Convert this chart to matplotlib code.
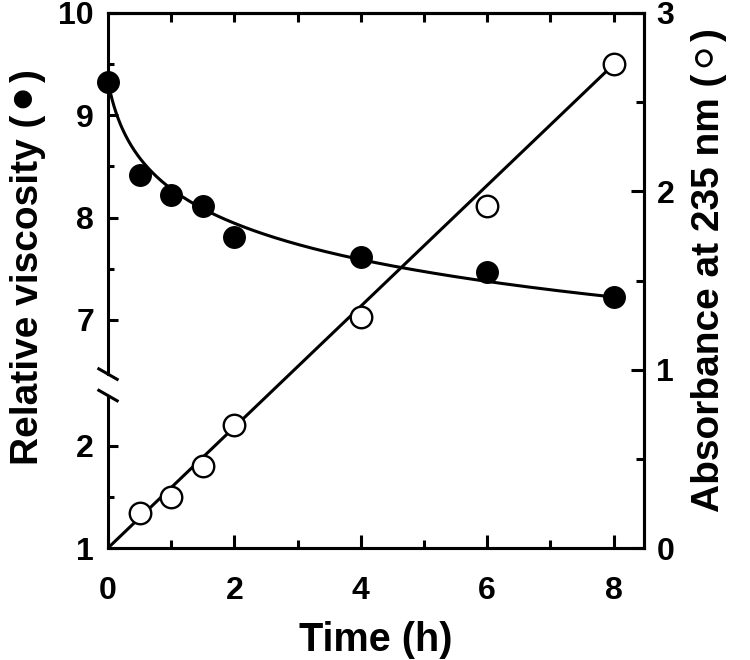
import matplotlib
matplotlib.use('Agg')
import matplotlib.pyplot as plt
from matplotlib import font_manager
import numpy as np

# ---- data ----
time_visc = [0, 0.5, 1, 1.5, 2, 4, 6, 8]
viscosity = [9.33, 8.42, 8.22, 8.11, 7.81, 7.61, 7.47, 7.22]
time_abs = [0.5, 1, 1.5, 2, 4, 6, 8]
absorbance = [0.196, 0.286, 0.46, 0.69, 1.296, 1.918, 2.714]
# fitted curves as drawn (parameters)
visc_fit_a, visc_fit_b, visc_fit_d = 9.33, 0.544, 0.17   # a - b*ln(1 + t/d)
abs_fit_slope, abs_fit_intercept = 0.339, 0.0
x_major = [0, 2, 4, 6, 8]
x_minor = [1, 3, 5, 7]
top_ticks = [1, 2, 3, 4, 5, 6, 7, 8]
left_major = [1, 2, 7, 8, 9, 10]
left_minor = [1.5, 7.5, 8.5, 9.5]
right_major = [0, 1, 2, 3]
right_minor = [0.5, 1.5, 2.5]

plt.rcParams['font.family'] = ['Liberation Sans', 'DejaVu Sans']
plt.rcParams['font.weight'] = 'bold'


def has_glyph(family, ch):
    try:
        path = font_manager.findfont(font_manager.FontProperties(family=family, weight='bold'),
                                     fallback_to_default=False)
        f = font_manager.get_font(path)
        return f.get_char_index(ord(ch)) != 0
    except Exception:
        return False


def pick(cands):
    for c in cands:
        if not has_glyph('Liberation Sans', c) and has_glyph('DejaVu Sans', c):
            return c
    return cands[-1]


FILLED = pick(['\u26ab', '\u25cf'])
OPEN = pick(['\u26aa', '\u25cb'])

OFF = 3.77          # axis-break offset for upper segment
T_TOP = 10 - OFF
BREAK_LO, BREAK_HI = 2.49, 2.70


def to_t(v):
    v = np.asarray(v, dtype=float)
    return np.where(v < 4.5, v, v - OFF)


LW = 2.2
fig = plt.figure(figsize=(7.5, 6.6), dpi=100)
ax = fig.add_axes([108 / 750, 1 - 548 / 660, (644 - 108) / 750, (548 - 13) / 660])
ax2 = ax.twinx()

# viscosity
xs = np.linspace(0, 8, 500)
ax.plot(xs, to_t(visc_fit_a - visc_fit_b * np.log(1 + xs / visc_fit_d)), color='k', lw=LW, zorder=2)
ax.plot(time_visc, to_t(viscosity), 'o', color='k', ms=15.5, zorder=3, clip_on=False)

# absorbance
xl = np.array([0, 8])
ax2.plot(xl, abs_fit_slope * xl + abs_fit_intercept, color='k', lw=LW, zorder=2)
ax2.plot(time_abs, absorbance, 'o', mfc='white', mec='k', mew=1.7, ms=15.5, zorder=3, clip_on=False)

ax.set_xlim(0, 8.48)
ax.set_ylim(1, T_TOP)
ax2.set_ylim(0, 3)

ax.set_xticks(x_major)
ax.set_xticks(x_minor, minor=True)
ax.set_yticks(to_t(left_major))
ax.set_yticklabels([str(v) for v in left_major])
ax.set_yticks(to_t(left_minor), minor=True)
ax2.set_yticks(right_major)
ax2.set_yticklabels([str(v) for v in right_major])
ax2.set_yticks(right_minor, minor=True)

TS = 23
ax.tick_params(axis='x', which='major', direction='in', length=9.5, width=LW, labelsize=TS, pad=20)
ax.tick_params(axis='x', which='minor', direction='in', length=6, width=LW)
ax.tick_params(axis='y', which='major', direction='in', length=7.5, width=LW, labelsize=TS, pad=10)
ax.tick_params(axis='y', which='minor', direction='in', length=4.5, width=LW)
ax2.tick_params(axis='y', which='major', direction='in', length=9.5, width=LW, labelsize=TS, pad=9)
ax2.tick_params(axis='y', which='minor', direction='in', length=6, width=LW)

sec = ax.secondary_xaxis('top')
sec.set_xticks(top_ticks)
sec.tick_params(direction='in', length=6.5, width=LW, labeltop=False)
sec.spines['top'].set_linewidth(LW)

for a in (ax, ax2):
    for s in a.spines.values():
        s.set_linewidth(LW)
ax2.spines['left'].set_visible(False)
ax.spines['left'].set_bounds(BREAK_HI, T_TOP)
ax.plot([0, 0], [1, BREAK_LO], transform=ax.get_yaxis_transform(), color='k', lw=LW,
        clip_on=False, solid_capstyle='butt')

# break marks
dx, dy = 10.5 / 536, 6 / 535
for tb in (BREAK_LO, BREAK_HI):
    yf = (tb - 1) / (T_TOP - 1)
    ax.plot([-dx, dx], [yf + dy, yf - dy], transform=ax.transAxes, color='k', lw=LW,
            clip_on=False, solid_capstyle='butt')

LS = 28
ax.set_xlabel('Time (h)', fontsize=28.5, fontweight='bold', labelpad=11)
ax.set_ylabel(f'Relative viscosity ({FILLED})', fontsize=LS, fontweight='bold', labelpad=9)
ax2.set_ylabel(f'Absorbance at 235 nm ({OPEN})', fontsize=LS, fontweight='bold', labelpad=12)
ax.yaxis.label.set_y(0.525)
ax2.yaxis.label.set_y(0.52)

fig.savefig('out.png', dpi=100)
